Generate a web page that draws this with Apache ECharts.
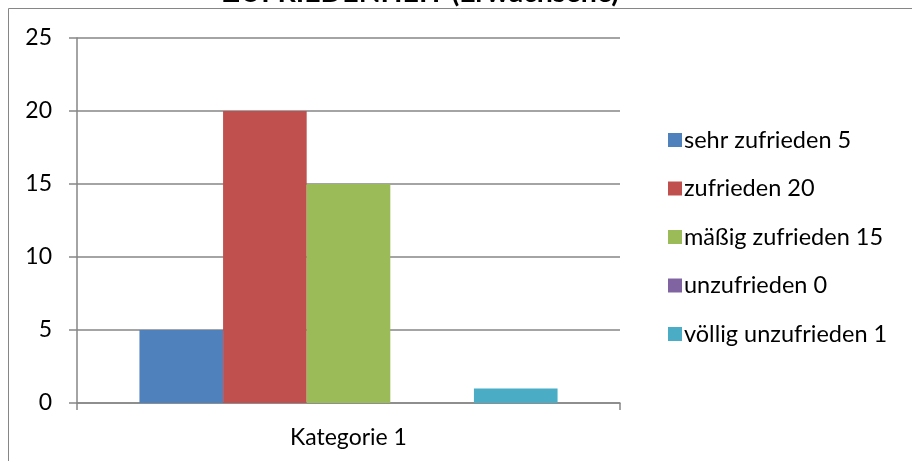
<!DOCTYPE html>
<html>
<head>
<meta charset="utf-8">
<script src="https://cdn.jsdelivr.net/npm/echarts@6/dist/echarts.min.js"></script>
<style>html,body{margin:0;padding:0;background:#fff;}#c{width:912px;height:461px;}</style>
</head>
<body>
<div id="c"></div>
<script>
const titleText = 'ZUFRIEDENHEIT (Erwachsene)';
const categories = ['Kategorie 1'];
const seriesNames = ['sehr zufrieden 5', 'zufrieden 20', 'mäßig zufrieden 15', 'unzufrieden 0', 'völlig unzufrieden 1'];
const seriesValues = [5, 20, 15, 0, 1];
const seriesColors = ['#4F81BD', '#C0504D', '#9BBB59', '#8064A2', '#4BACC6'];
const yTicks = [0, 5, 10, 15, 20, 25];

const font = 'Lato, "Open Sans", sans-serif';
const chart = echarts.init(document.getElementById('c'));
chart.setOption({
  animation: false,
  backgroundColor: '#fff',
  textStyle: { fontFamily: font },
  title: {
    text: titleText,
    left: 416,
    textAlign: 'center',
    top: -27,
    textStyle: { fontFamily: font, fontSize: 28.5, fontWeight: 'bold', color: '#000' }
  },
  graphic: [{
    type: 'rect', z: -1,
    shape: { x: 8.5, y: 8.5, width: 1000, height: 1000 },
    style: { fill: 'none', stroke: '#868686', lineWidth: 1 }
  }],
  grid: { left: 77, right: 292, top: 38, bottom: 58, containLabel: false },
  legend: {
    orient: 'vertical',
    left: 663,
    top: 123,
    itemWidth: 14,
    itemHeight: 14,
    itemGap: 24.5,
    icon: 'rect',
    textStyle: { fontFamily: font, fontSize: 23.5, color: '#000', padding: [0, 0, 0, -3] },
    data: seriesNames
  },
  xAxis: {
    type: 'category',
    data: categories,
    axisLine: { lineStyle: { color: '#868686', width: 1.5 } },
    axisTick: { show: true, length: 7, lineStyle: { color: '#868686', width: 1.5 } },
    axisLabel: { fontFamily: font, fontSize: 23, color: '#000', margin: 23 }
  },
  yAxis: {
    type: 'value',
    min: 0, max: 25, interval: 5,
    axisLine: { show: true, lineStyle: { color: '#868686', width: 1.5 } },
    axisTick: { show: true, length: 8, lineStyle: { color: '#868686', width: 1.5 } },
    splitLine: { lineStyle: { color: '#868686', width: 1.5 } },
    axisLabel: { fontFamily: font, fontSize: 23, color: '#000', margin: 25 }
  },
  series: seriesNames.map((n, i) => ({
    name: n,
    type: 'bar',
    data: [seriesValues[i]],
    itemStyle: { color: seriesColors[i] },
    barGap: '0%',
    barCategoryGap: '23%'
  }))
});
</script>
</body>
</html>
